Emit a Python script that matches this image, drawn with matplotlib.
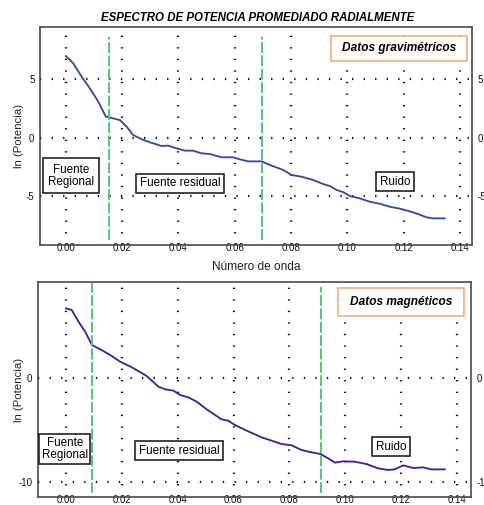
import matplotlib
matplotlib.use("Agg")
import matplotlib.pyplot as plt
from matplotlib.patches import Rectangle

plt.rcParams['font.family'] = ['Liberation Sans', 'DejaVu Sans']

# ---- data: gravimetric spectrum ----
grav_k = [0.0, 0.0026, 0.0056, 0.0085, 0.0115, 0.0142, 0.0154, 0.0192, 0.0216, 0.0239,
          0.0275, 0.031, 0.034, 0.0364, 0.0393, 0.0423, 0.0452, 0.0482, 0.0512, 0.0553,
          0.0594, 0.0618, 0.0648, 0.0695, 0.0725, 0.0772, 0.0802, 0.0837, 0.0879, 0.0914,
          0.0938, 0.0962, 0.0985, 0.1009, 0.1044, 0.108, 0.1115, 0.1151, 0.1187, 0.1222,
          0.1252, 0.1281, 0.1305, 0.1346]
grav_lnp = [7.0, 6.38, 5.23, 4.23, 3.08, 1.79, 1.73, 1.50, 0.93, 0.21,
            -0.21, -0.50, -0.73, -0.70, -0.93, -1.13, -1.13, -1.36, -1.42, -1.70,
            -1.70, -1.88, -2.05, -2.05, -2.36, -2.79, -3.22, -3.37, -3.65, -4.0,
            -4.17, -4.51, -4.69, -5.03, -5.23, -5.52, -5.69, -5.95, -6.12, -6.35,
            -6.58, -6.86, -6.95, -6.95]
grav_cuts = [0.0153, 0.0697]

# ---- data: magnetic spectrum ----
mag_k = [0.0, 0.0021, 0.0045, 0.0069, 0.0093, 0.0123, 0.0158, 0.0194, 0.0236, 0.0289,
         0.0331, 0.0355, 0.0385, 0.0409, 0.0438, 0.0468, 0.0504, 0.0534, 0.0557, 0.0581,
         0.0605, 0.0647, 0.07, 0.073, 0.0772, 0.0808, 0.0843, 0.0873, 0.0911, 0.0939,
         0.0963, 0.0992, 0.1034, 0.1076, 0.1117, 0.1153, 0.1177, 0.1207, 0.1243, 0.1278,
         0.1308, 0.1356]
mag_lnp = [6.62, 6.46, 5.35, 4.39, 3.12, 2.71, 2.17, 1.53, 0.99, 0.16,
           -0.86, -1.11, -1.24, -1.66, -1.88, -2.29, -3.03, -3.57, -3.98, -4.11,
           -4.52, -5.06, -5.70, -5.96, -6.34, -6.46, -6.91, -7.10, -7.29, -7.71,
           -8.12, -7.99, -8.03, -8.25, -8.66, -8.82, -8.76, -8.38, -8.63, -8.57,
           -8.76, -8.76]
mag_cuts = [0.0094, 0.0912]

xticks = [0.0, 0.02, 0.04, 0.06, 0.08, 0.10, 0.12, 0.14]
xticklabels = ["0.00", "0.02", "0.04", "0.06", "0.08", "0.10", "0.12", "0.14"]
grav_yticks = [5, 0, -5]
mag_yticks = [0, -10]

title = "ESPECTRO DE POTENCIA PROMEDIADO RADIALMENTE"
xlabel = "Número de onda"
ylabel = "ln (Potencia)"

fig = plt.figure(figsize=(4.84, 5.05), dpi=100)
ax1 = fig.add_axes([40/484, 1-245/505, 432/484, 218/505])
ax2 = fig.add_axes([38/484, 1-497/505, 433/484, 215/505])

dot_style = (0, (0.6, 4.6))
green = "#44c462"


def style_axes(ax, xlim, ylim, yticks, ylab_x):
    ax.set_xlim(*xlim)
    ax.set_ylim(*ylim)
    ax.set_xticks(xticks)
    ax.set_xticklabels(xticklabels)
    ax.set_yticks(yticks)
    ax.set_yticklabels([str(v) for v in yticks])
    ax.tick_params(axis='both', length=0, labelsize=7, colors='#111111')
    ax.tick_params(axis='x', pad=-1.5)
    ax.tick_params(axis='y', pad=4, labelright=True)
    for x in xticks:
        ax.axvline(x, color='#111111', lw=1.6, linestyle=dot_style, zorder=1)
    for y in yticks:
        ax.axhline(y, color='#111111', lw=1.6, linestyle=dot_style, zorder=1)
    for s in ax.spines.values():
        s.set_color('#4a4a4a')
        s.set_linewidth(1.2)
    ax.set_ylabel(ylabel, fontsize=8.2, color='#222222')
    ax.yaxis.set_label_coords(ylab_x, 0.5)


def label_box(ax, x, y, txt, pad=0.3):
    ax.text(x, y, txt, transform=ax.transAxes, ha='center', va='center',
            fontsize=8.4, linespacing=1.05, zorder=5,
            bbox=dict(boxstyle='square,pad=%g' % pad, fc='white', ec='#222222', lw=1.2))


def title_box(ax, x0, y0, x1, y1, txt):
    ax.add_patch(Rectangle((x0, y0), x1-x0, y1-y0, transform=ax.transAxes,
                           fc='white', ec='#f4a470', lw=1.1, zorder=5))
    ax.text((x0+x1)/2, (y0+y1)/2, txt, transform=ax.transAxes, ha='center',
            va='center', fontsize=8.6, fontweight='bold', fontstyle='italic', zorder=6)


# top panel
style_axes(ax1, (-0.0092, 0.1443), (-9.24, 9.5), grav_yticks, -0.037)
ax1.plot(grav_k, grav_lnp, color='#3a48a8', lw=1.35, zorder=3)
for c in grav_cuts:
    ax1.axvline(c, ymin=0.023, ymax=0.954, color=green, lw=1.3,
                linestyle=(0, (6, 1.4)), zorder=4)
ax1.set_xlabel(xlabel, fontsize=8.6, labelpad=6, color='#222222')
label_box(ax1, 0.072, 0.317, "Fuente\nRegional", pad=0.45)
label_box(ax1, 0.324, 0.284, "Fuente residual")
label_box(ax1, 0.822, 0.289, "Ruido")
title_box(ax1, 0.674, 0.844, 0.988, 0.959, "Datos gravimétricos")

# bottom panel
style_axes(ax2, (-0.010, 0.145), (-11.4, 9.14), mag_yticks, -0.032)
ax2.plot(mag_k, mag_lnp, color='#4a1ea0', lw=1.35, zorder=3)
ax2.axvline(mag_cuts[0], ymin=0.019, ymax=0.995, color=green, lw=1.3,
            linestyle=(0, (6, 1.4)), zorder=4)
ax2.axvline(mag_cuts[1], ymin=0.019, ymax=0.977, color=green, lw=1.3,
            linestyle=(0, (6, 1.4)), zorder=4)
label_box(ax2, 0.062, 0.223, "Fuente\nRegional", pad=0.2)
label_box(ax2, 0.326, 0.214, "Fuente residual")
label_box(ax2, 0.815, 0.233, "Ruido")
title_box(ax2, 0.693, 0.842, 0.984, 0.972, "Datos magnéticos")

fig.text(258/484, 1-18/505, title, ha='center', va='center', fontsize=8.3,
         fontweight='bold', fontstyle='italic')

fig.savefig("out.png", dpi=100)
